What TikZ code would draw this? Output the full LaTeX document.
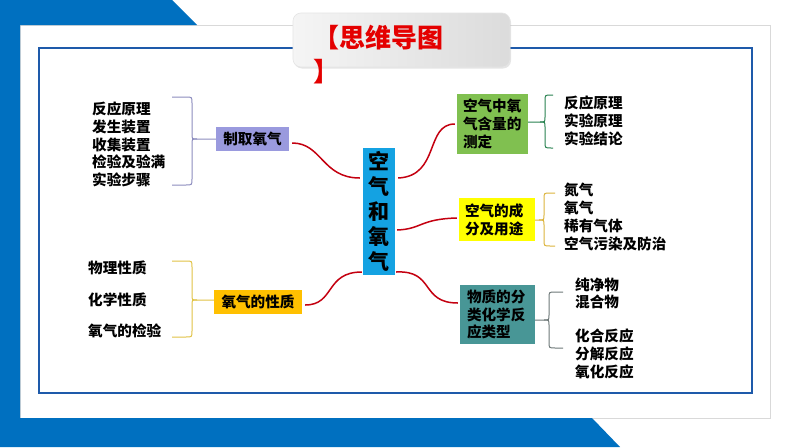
\documentclass[tikz,border=0pt]{standalone}
\usepackage{fontspec}
\setmainfont{Noto Sans CJK SC}
\usetikzlibrary{shadows}
\definecolor{bgblue}{RGB}{0,112,192}
\definecolor{frameblue}{RGB}{30,90,170}
\definecolor{titlered}{RGB}{228,0,0}
\definecolor{centerblue}{RGB}{20,162,226}
\definecolor{lavender}{RGB}{154,154,222}
\definecolor{orangebox}{RGB}{255,192,0}
\definecolor{greenbox}{RGB}{128,192,80}
\definecolor{yellowbox}{RGB}{255,255,0}
\definecolor{tealbox}{RGB}{72,150,150}
\definecolor{curvered}{RGB}{196,0,16}
\definecolor{braceA}{RGB}{140,140,190}
\definecolor{braceB}{RGB}{225,195,70}
\definecolor{braceC}{RGB}{40,130,80}
\definecolor{braceD}{RGB}{220,180,60}
\definecolor{braceE}{RGB}{110,120,120}
\tikzset{
  listtext/.style={anchor=west, inner sep=0pt, align=left, font=\bfseries\fontsize{14.6}{17.8}\selectfont},
  boxtext/.style={inner ysep=0pt, align=left, font=\bfseries\fontsize{14.6}{17.8}\selectfont},
  redline/.style={draw=curvered, line width=1.5pt},
  bracel/.style={line width=1pt},
}
\newcommand\bracer[7]{% color, x0, xv, yt, ym, yb, target (opens left: "}")
  \draw[bracel,#1] (#2,#4) -- ({#3-6},#4) .. controls (#3,#4) .. (#3,{#4+6}) -- (#3,{#5-5}) .. controls (#3,#5) .. ({#3+5},#5) -- (#7 |- 0,#5);
  \draw[bracel,#1] ({#3+5},#5) .. controls (#3,#5) .. (#3,{#5+5}) -- (#3,{#6-6}) .. controls (#3,#6) .. ({#3-6},#6) -- (#2,#6);
}
\newcommand\bracel[7]{% color, x0, xv, yt, ym, yb, target (opens right: "{")
  \draw[bracel,#1] (#2,#4) -- ({#3+6},#4) .. controls (#3,#4) .. (#3,{#4+6}) -- (#3,{#5-5}) .. controls (#3,#5) .. ({#3-5},#5) -- (#7 |- 0,#5);
  \draw[bracel,#1] ({#3-5},#5) .. controls (#3,#5) .. (#3,{#5+5}) -- (#3,{#6-6}) .. controls (#3,#6) .. ({#3+6},#6) -- (#2,#6);
}
\begin{document}
\begin{tikzpicture}[x=1pt,y=-1pt]
\useasboundingbox (0,0) rectangle (794,447);
\fill[white] (0,0) rectangle (794,447);
% card
\draw[draw=black!15, fill=white, line width=0.8pt] (20,25) rectangle (770,418);
% blue background shape
\fill[bgblue] (0,0) -- (172,0) -- (197,25) -- (20,25) -- (20,418) -- (592,418) -- (620,447) -- (0,447) -- cycle;
% inner frame
\draw[frameblue, line width=1.3pt] (39,48) rectangle (752,393);
% title box
\shade[rounded corners=8pt, left color=white!96!black, right color=black!14, draw=black!10, line width=0.6pt,
  drop shadow={opacity=0.2, shadow xshift=1pt, shadow yshift=-1.5pt}] (293,13) rectangle (510,67);
\node[anchor=north west, inner sep=0pt, align=left, text=titlered,
  font=\bfseries\fontsize{26}{34}\selectfont] (tt) at (313,25) {【思维导图\\】};

% center node
\node[fill=centerblue, minimum width=32pt, minimum height=127pt, inner sep=0pt, align=center,
  font=\bfseries\fontsize{21}{25}\selectfont] (cn) at (379,211.5) {空\\气\\和\\氧\\气};

% branch boxes
\node[boxtext, fill=lavender, minimum width=73pt, minimum height=24pt, inner xsep=0pt, align=center] (qu) at (252.5,139) {制取氧气};
\node[boxtext, fill=orangebox, minimum width=88pt, minimum height=24pt, inner xsep=0pt, align=center] (xz) at (258,302) {氧气的性质};
\node[boxtext, fill=greenbox, text width=59pt, inner xsep=6pt, minimum height=60pt] (gn) at (492.5,124) {空气中氧\\气含量的\\测定};
\node[boxtext, fill=yellowbox, text width=64pt, inner xsep=6pt, minimum height=43pt] (yl) at (497,219.5) {空气的成\\分及用途};
\node[boxtext, fill=tealbox, text width=61pt, inner xsep=7pt, minimum height=59pt] (tl) at (497.5,314.5) {物质的分\\类化学反\\应类型};

% lists
\node[listtext] (lq) at (92,144.5) {反应原理\\发生装置\\收集装置\\检验及验满\\实验步骤};
\node[listtext, font=\bfseries\fontsize{14.6}{31.5}\selectfont] (lx) at (88,299.5) {物理性质\\化学性质\\氧气的检验};
\node[listtext] (lg) at (564,120.7) {反应原理\\实验原理\\实验结论};
\node[listtext] (ly) at (564,217) {氮气\\氧气\\稀有气体\\空气污染及防治};
\node[listtext] (lt1) at (575,293.3) {纯净物\\混合物};
\node[listtext] (lt2) at (575,354) {化合反应\\分解反应\\氧化反应};

% braces
\bracer{braceA}{172}{192}{97}{139}{185}{qu.west}
\bracer{braceB}{172}{192}{261}{300}{337}{xz.west}
\bracel{braceC}{553}{545}{95}{122}{148}{gn.east}
\bracel{braceD}{555}{544}{193}{220}{246}{yl.east}
\bracel{braceE}{563}{549}{292}{320}{348}{tl.east}

% red curves
\draw[redline] ([xshift=3pt,yshift=-4pt]qu.east) .. controls (322,143) and (322,178) .. ([xshift=-3pt]cn.west |- 0,178);
\draw[redline] ([xshift=3pt,yshift=-3pt]xz.east) .. controls (335,305) and (325,272) .. ([xshift=-1pt]cn.west |- 0,272);
\draw[redline] ([xshift=3pt]cn.east |- 0,178) .. controls (440,176) and (425,124) .. ([xshift=-2pt]gn.west |- 0,124);
\draw[redline] ([xshift=2pt]cn.east |- 0,230) .. controls (422,229) and (420,219) .. ([xshift=-2pt]yl.west |- 0,218);
\draw[redline] ([xshift=1pt]cn.east |- 0,272) .. controls (435,270) and (420,303) .. ([xshift=-2pt]tl.west |- 0,303);
\end{tikzpicture}
\end{document}
